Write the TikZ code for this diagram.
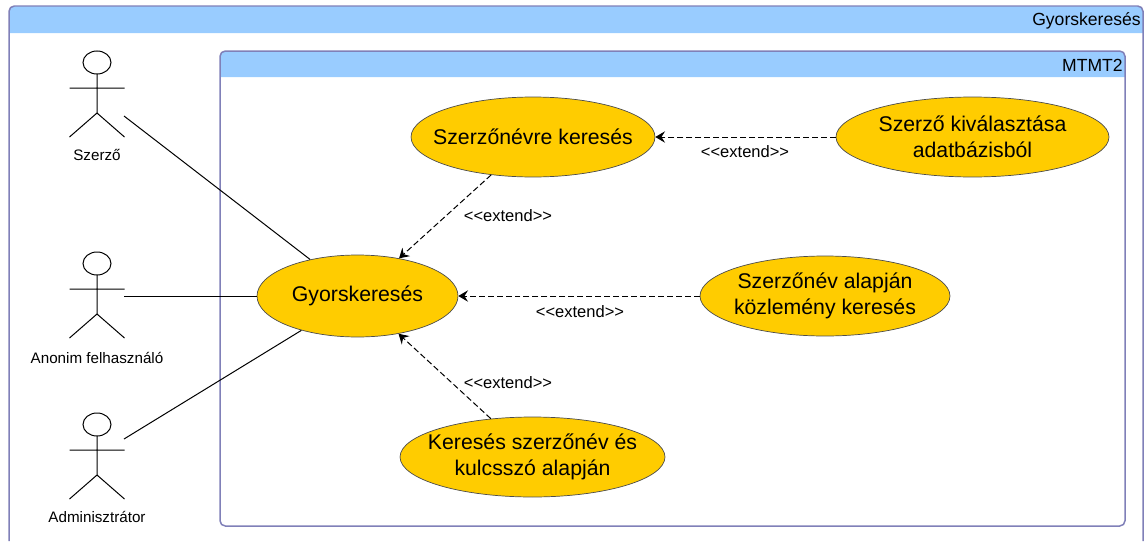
\documentclass[tikz,border=0pt]{standalone}
\usepackage{fontspec}
\setmainfont{Liberation Sans}
\usetikzlibrary{shapes.geometric, arrows.meta}
\definecolor{framecol}{HTML}{8080B8}
\definecolor{headcol}{HTML}{99CCFF}
\definecolor{ucfill}{HTML}{FFCC00}
\tikzset{
    usecase/.style = {ellipse, draw = black!70, fill = ucfill, inner sep = -12pt, align = center, font = \fontsize{12.1}{14.8}\selectfont},
    extendline/.style = {-{Stealth[length = 5.5pt, width = 6.5pt, inset = 2pt]}, dash pattern = on 3.4pt off 1.7pt, line width = 0.2mm},
    assoc/.style = {line width = 0.2mm},
    actorlabel/.style = {font = \fontsize{8.65}{11}\selectfont, inner sep = 0pt},
    extendlabel/.style = {font = \fontsize{9.4}{12}\selectfont, inner sep = 0pt},
    boxlabel/.style = {anchor = east, inner sep = 0pt, font = \fontsize{10}{12}\selectfont}
}
\newcommand{\stickman}[4]{
    \draw[line width = 0.2mm, fill = white] (#2,#3+62.5) ellipse (14 and 11.5);
    \draw[line width = 0.2mm] (#2,#3+74) -- (#2,#3+113) (#2-27.5,#3+88) -- (#2+27.5,#3+88) (#2-27.5,#3+137) -- (#2,#3+113) -- (#2+27.5,#3+137);
    \coordinate (#1) at (#2+27,#4);
}
\begin{document}
\begin{tikzpicture}[
        > = stealth,
        x = 0.02cm,
        y = -0.02cm
    ]
    \useasboundingbox (0,0) rectangle (1145,541);
    % outer frame
    \fill[headcol] (9,33) [rounded corners = 3pt] -- (9,6) -- (1143,6) [sharp corners] -- (1143,33) -- cycle;
    \draw[framecol, line width = 0.3mm, rounded corners = 3pt] (9,541) -- (9,6) -- (1143,6) -- (1143,541);
    \node[boxlabel] (outername) at (1141,21) {Gyorskeresés};
    % inner frame
    \fill[headcol] (220,77) [rounded corners = 3pt] -- (220,51) -- (1125,51) [sharp corners] -- (1125,77) -- cycle;
    \draw[framecol, line width = 0.3mm, rounded corners = 3pt] (220,51) rectangle (1125,526);
    \node[boxlabel] (innername) at (1123,65) {MTMT2};
    % actors
    \stickman{szerzo}{97}{0}{116}
    \stickman{anonim}{97}{201}{296}
    \stickman{admin}{97}{362}{439}
    \node[actorlabel] (szerzolabel) at (97,155) {Szerző};
    \node[actorlabel] (anonimlabel) at (97,358) {Anonim felhasználó};
    \node[actorlabel] (adminlabel) at (97,517) {Adminisztrátor};
    % use cases
    \node[usecase, minimum width = 4.88cm, minimum height = 1.6cm] (nevre) at (533,137) {Szerzőnévre keresés};
    \node[usecase, minimum width = 4.02cm, minimum height = 1.64cm] (gyors) at (357.5,296) {Gyorskeresés};
    \node[usecase, minimum width = 5.46cm, minimum height = 1.6cm] (valaszt) at (972.5,137) {Szerző kiválasztása\\adatbázisból};
    \node[usecase, minimum width = 5cm, minimum height = 1.6cm] (kozlemeny) at (825,296) {Szerzőnév alapján\\közlemény keresés};
    \node[usecase, minimum width = 5.3cm, minimum height = 1.6cm] (kulcsszo) at (532.5,457) {Keresés szerzőnév és\\kulcsszó alapján};
    % associations
    \draw[assoc] (szerzo) -- (gyors);
    \draw[assoc] (anonim) -- (gyors);
    \draw[assoc] (admin) -- (gyors);
    % extends
    \draw[extendline] (valaszt) -- (nevre);
    \draw[extendline] (nevre) -- (gyors);
    \draw[extendline] (kozlemeny) -- (gyors);
    \draw[extendline] (kulcsszo) -- (gyors);
    \node[extendlabel] (ext1) at (745,152) {<{}<extend>{}>};
    \node[extendlabel] (ext2) at (508,216) {<{}<extend>{}>};
    \node[extendlabel] (ext3) at (580,312) {<{}<extend>{}>};
    \node[extendlabel] (ext4) at (508,383) {<{}<extend>{}>};
\end{tikzpicture}
\end{document}
